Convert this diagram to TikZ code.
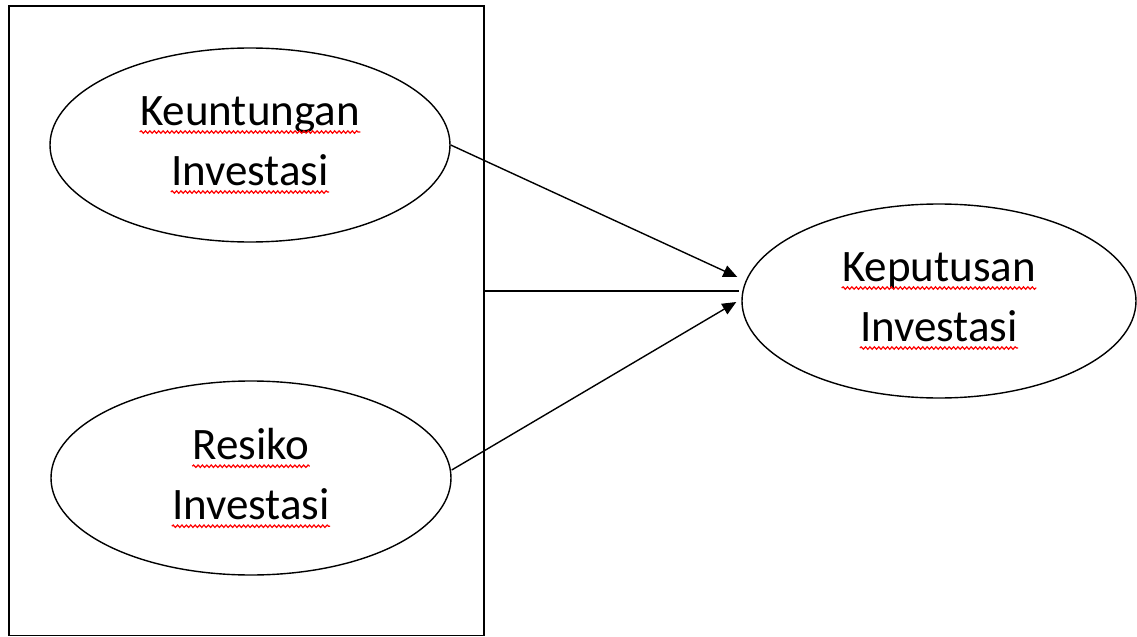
\documentclass[tikz,border=0pt]{standalone}
\usepackage{fontspec}
\setmainfont{Carlito}
\usetikzlibrary{arrows.meta,positioning,shapes.geometric,decorations.pathmorphing}
\newcommand{\spell}[1]{\tikz[baseline=(w.base)]{\node[shape=rectangle, draw=none, inner sep=0pt, minimum width=0pt, minimum height=0pt] (w) {#1};
  \draw[red, line width=0.6pt, decorate, decoration={snake, amplitude=0.6pt, segment length=2.2pt}] ([yshift=-3.5pt]w.base west) -- ([yshift=-3.5pt]w.base east);}}

\begin{document}
\begin{tikzpicture}[
    x=0.5pt, y=-0.5pt,
    latent/.style={draw, ellipse, line width=0.7pt, align=center, inner sep=0pt,
                   minimum width=200pt, minimum height=97pt,
                   font=\fontsize{22.5}{30}\selectfont},
    arrow/.style={-{Triangle[length=7pt,width=6pt]}, line width=0.7pt}
]
\useasboundingbox (0,0) rectangle (1137,637);
\node[draw, line width=0.7pt, inner sep=0pt, minimum width=237.5pt, minimum height=314.75pt] (frame) at (246.5,320.75) {};
\node[latent] (keu) at (250,145) {\spell{Keuntungan}\\\spell{Investasi}};
\node[latent] (res) at (251,478) {\spell{Resiko}\\\spell{Investasi}};
\node[latent, minimum width=197pt] (kep) at (939,301) {\spell{Keputusan}\\\spell{Investasi}};

\draw[arrow] (keu.east) -- ([xshift=-2pt,yshift=12pt]kep.west);
\draw[line width=0.7pt] ([yshift=5pt]frame.east |- kep.west) -- ([xshift=-1pt,yshift=5pt]kep.west);
\draw[arrow] ([yshift=4pt]res.east) -- ([xshift=-2.5pt,yshift=-0.5pt]kep.west);
\end{tikzpicture}
\end{document}
